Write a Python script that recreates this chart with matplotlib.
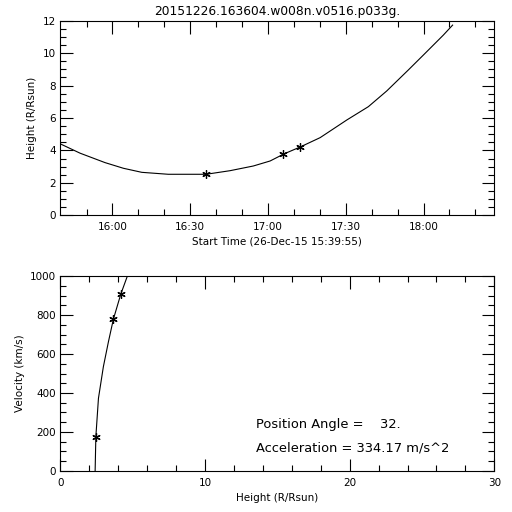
import matplotlib
matplotlib.use("Agg")
import matplotlib.pyplot as plt
from matplotlib.ticker import MultipleLocator, FixedLocator

# start of the time axis: 26-Dec-15 15:39:55
START = 15 * 60 + 39 + 55 / 60.0

# measured height-time points
meas_times = ["16:36:04", "17:05:54", "17:12:12"]
meas_height = [2.53, 3.78, 4.22]

# fitted height-time curve (minutes after start, R/Rsun)
fit_minutes = [0.3, 7.6, 17.2, 24.3, 31.4, 41.6, 51.3, 56.2, 65.4, 74.4,
               80.9, 86.3, 92.6, 100.2, 110.5, 118.8, 125.9, 134.2, 140.0,
               147.7, 151.3]
fit_height = [4.38, 3.83, 3.25, 2.90, 2.65, 2.53, 2.53, 2.53, 2.75, 3.04,
              3.35, 3.79, 4.22, 4.79, 5.88, 6.70, 7.67, 8.96, 9.88,
              11.11, 11.73]

# velocity vs height
meas_vh = [2.45, 3.66, 4.17]
meas_vel = [176, 778, 906]
fit_vh = [2.40, 2.45, 2.63, 2.97, 3.32, 3.66, 4.17, 4.63]
fit_vel = [0, 176, 373, 535, 663, 778, 906, 1000]

time_ticks = ["16:00", "16:30", "17:00", "17:30", "18:00"]
minor_times = ["15:50", "16:10", "16:20", "16:40", "16:50", "17:10",
               "17:20", "17:40", "17:50", "18:10", "18:20"]

title = "20151226.163604.w008n.v0516.p033g."
pos_angle = 32
accel = 334.17


def to_minutes(s):
    parts = [float(p) for p in s.split(":")]
    m = parts[0] * 60 + parts[1]
    if len(parts) > 2:
        m += parts[2] / 60.0
    return m - START


def style_axes(ax):
    for sp in ax.spines.values():
        sp.set_linewidth(0.8)
    ax.tick_params(which="both", direction="in", top=True, right=True,
                   width=0.8, labelsize=7.5, pad=5)
    ax.tick_params(which="major", length=9)
    ax.tick_params(which="minor", length=4.5)
    ax.tick_params(axis="y", which="both", pad=3)


plt.rcParams["font.family"] = "DejaVu Sans"
fig = plt.figure(figsize=(5.12, 5.12), dpi=100)

ax1 = fig.add_axes([0.118, 0.5795, 0.8475, 0.380])
ax1.plot(fit_minutes, fit_height, color="black", lw=0.8)
ax1.plot([to_minutes(t) for t in meas_times], meas_height, ls="none",
         marker=(6, 2, 0), ms=6, mew=0.9, color="black")
ax1.set_xlim(0, 167.4)
ax1.set_ylim(0, 12)
ax1.xaxis.set_major_locator(FixedLocator([to_minutes(t) for t in time_ticks]))
ax1.set_xticklabels(time_ticks)
ax1.xaxis.set_minor_locator(FixedLocator([to_minutes(t) for t in minor_times]))
ax1.yaxis.set_major_locator(MultipleLocator(2))
ax1.yaxis.set_minor_locator(MultipleLocator(0.5))
style_axes(ax1)
ax1.set_xlabel("Start Time (26-Dec-15 15:39:55)", fontsize=7.5, labelpad=3)
ax1.set_ylabel("Height (R/Rsun)", fontsize=7.5, labelpad=4)
ax1.set_title(title, fontsize=8.8, pad=4)

ax2 = fig.add_axes([0.118, 0.0801, 0.8475, 0.3808])
ax2.plot(fit_vh, fit_vel, color="black", lw=0.8)
ax2.plot(meas_vh, meas_vel, ls="none", marker=(6, 2, 0), ms=6, mew=0.9,
         color="black")
ax2.set_xlim(0, 30)
ax2.set_ylim(0, 1000)
ax2.xaxis.set_major_locator(MultipleLocator(10))
ax2.xaxis.set_minor_locator(MultipleLocator(2))
ax2.yaxis.set_major_locator(MultipleLocator(200))
ax2.yaxis.set_minor_locator(MultipleLocator(50))
style_axes(ax2)
ax2.set_xlabel("Height (R/Rsun)", fontsize=7.5, labelpad=4)
ax2.set_ylabel("Velocity (km/s)", fontsize=7.5, labelpad=4)
ax2.text(13.5, 236, "Position Angle =    %d." % pos_angle, fontsize=9.4,
         va="center", ha="left")
ax2.text(13.5, 119, "Acceleration = %.2f m/s^2" % accel, fontsize=9.4,
         va="center", ha="left")

fig.savefig("out.png", dpi=100)
